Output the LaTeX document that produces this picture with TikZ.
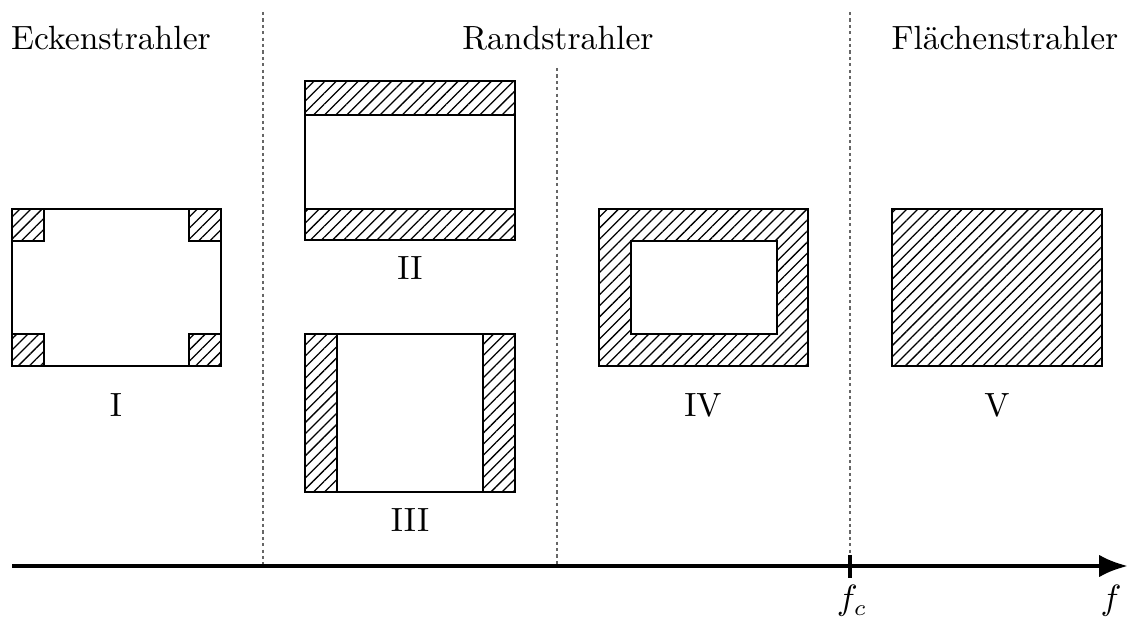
\documentclass[tikz,border=0pt]{standalone}
\usepackage{amsmath}
\usetikzlibrary{patterns.meta, arrows.meta, positioning}

\begin{document}
\begin{tikzpicture}[
    x=0.3125pt, y=-0.3125pt,
    >=Latex,
    % styles
    radiator/.style={draw=black, line width=0.9pt, fill=white},
    hatched/.style={draw=black, line width=0.9pt, pattern={Lines[angle=45, distance=2.45pt, line width=0.4pt]}},
    divider/.style={draw=black!60, line width=0.4pt, dash pattern=on 1pt off 1pt},
    axis/.style={-{Latex[length=9pt, width=7pt]}, line width=1.3pt},
    caption/.style={font=\fontsize{10.5}{12}\selectfont, inner sep=0pt},
    title/.style={font=\fontsize{10.5}{12}\selectfont, inner sep=0pt}
]
\useasboundingbox (0,0) rectangle (1131,617);

% -----------------------------------------------------------
% Headings
% -----------------------------------------------------------
\node[title] (eck) at (111,38) {Eckenstrahler};
\node[title] (rand) at (558,38) {Randstrahler};
\node[title] (flaeche) at (1005,38) {Flächenstrahler};

% -----------------------------------------------------------
% Dividers
% -----------------------------------------------------------
\coordinate (d1top) at (263,12);
\coordinate (d1bot) at (263,566);
\coordinate (d2top) at (557,68);
\coordinate (d2bot) at (557,566);
\coordinate (d3top) at (850,12);
\coordinate (d3bot) at (850,556);
\draw[divider] (d1top) -- (d1bot);
\draw[divider] (d2top) -- (d2bot);
\draw[divider] (d3top) -- (d3bot);

% -----------------------------------------------------------
% I: corner radiator
% -----------------------------------------------------------
\draw[radiator] (12,209) rectangle (221,366);
\draw[hatched] (12,209) rectangle (44,241);
\draw[hatched] (189,209) rectangle (221,241);
\draw[hatched] (12,334) rectangle (44,366);
\draw[hatched] (189,334) rectangle (221,366);
\node[caption] (capI) at (116,405) {I};

% -----------------------------------------------------------
% II / III: edge radiators
% -----------------------------------------------------------
\draw[radiator] (305,81) rectangle (515,240);
\draw[hatched] (305,81) rectangle (515,115);
\draw[hatched] (305,209) rectangle (515,240);
\node[caption] (capII) at (410,268) {II};

\draw[radiator] (305,334) rectangle (515,492);
\draw[hatched] (305,334) rectangle (337,492);
\draw[hatched] (483,334) rectangle (515,492);
\node[caption] (capIII) at (410,520) {III};

\draw[hatched] (599,209) rectangle (808,366);
\draw[radiator] (631,241) rectangle (777,334);
\node[caption] (capIV) at (703,405) {IV};

% -----------------------------------------------------------
% V: surface radiator
% -----------------------------------------------------------
\draw[hatched] (892,209) rectangle (1102,366);
\node[caption] (capV) at (997,405) {V};

% -----------------------------------------------------------
% Frequency axis
% -----------------------------------------------------------
\coordinate (origin) at (12,566);
\coordinate (fend) at (1128,566);
\draw[axis] (origin) -- (fend);
\coordinate (tickup) at (850,555);
\coordinate (tickdown) at (850,578);
\draw[line width=1.3pt] (tickup) -- (tickdown);
\node[caption] (fc) at (852,601) {$f_c$};
\node[caption] (f) at (1111,601) {$f$};

\end{tikzpicture}
\end{document}
